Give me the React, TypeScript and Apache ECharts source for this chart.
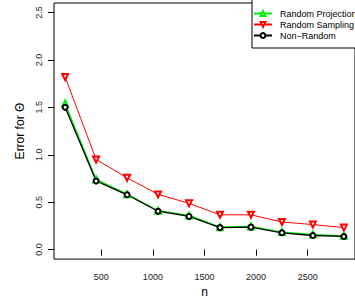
import React, { useEffect, useRef } from "react";
import * as echarts from "echarts";

const nValues = [150, 450, 750, 1050, 1350, 1650, 1950, 2250, 2550, 2850];
const randomProjection = [1.54, 0.74, 0.585, 0.41, 0.36, 0.237, 0.245, 0.185, 0.16, 0.145];
const randomSampling = [1.82, 0.95, 0.758, 0.582, 0.488, 0.367, 0.367, 0.291, 0.264, 0.232];
const nonRandom = [1.5, 0.724, 0.578, 0.405, 0.35, 0.232, 0.237, 0.177, 0.149, 0.139];
const xTicks = [500, 1000, 1500, 2000, 2500];
const yTicks = [0, 0.5, 1, 1.5, 2, 2.5];
const seriesNames = ["Random Projection", "Random Sampling", "Non\u2212Random"];

const FONT = "Liberation Sans, Arial, Helvetica, sans-serif";

export default function App() {
  const ref = useRef<HTMLDivElement>(null);
  useEffect(() => {
    if (!ref.current) return;
    const chart = echarts.init(ref.current, undefined, { renderer: "svg" });
    const pairs = (ys: number[]) => nValues.map((x, i) => [x, ys[i]]);
    chart.setOption({
      animation: false,
      backgroundColor: "#fff",
      grid: {
        left: 54,
        top: 3,
        width: 308,
        height: 259,
        show: true,
        borderColor: "#000",
        borderWidth: 1,
        backgroundColor: "transparent",
      },
      xAxis: {
        type: "value",
        min: 42,
        max: 2958,
        name: "n",
        nameLocation: "middle",
        nameGap: 26,
        nameTextStyle: { fontFamily: FONT, fontSize: 12, color: "#000" },
        axisLine: { show: false },
        splitLine: { show: false },
        axisTick: { show: true, inside: false, length: 6, lineStyle: { color: "#000" }, customValues: xTicks },
        axisLabel: {
          fontFamily: FONT,
          fontSize: 9,
          color: "#222",
          margin: 13,
          customValues: xTicks,
          formatter: (v: number) => String(v),
        },
      },
      yAxis: {
        type: "value",
        min: -0.1,
        max: 2.6,
        name: "Error for \u0398",
        nameLocation: "middle",
        nameGap: 27,
        nameTextStyle: { fontFamily: FONT, fontSize: 12, color: "#000" },
        axisLine: { show: false },
        splitLine: { show: false },
        axisTick: { show: true, inside: false, length: 6, lineStyle: { color: "#000" }, customValues: yTicks },
        axisLabel: {
          fontFamily: FONT,
          fontSize: 9,
          color: "#222",
          rotate: 90,
          margin: 11,
          customValues: yTicks,
          formatter: (v: number) => v.toFixed(1),
        },
      },
      legend: {
        data: seriesNames,
        orient: "vertical",
        left: 252,
        top: -1,
        padding: [9, 4, 7, 1],
        itemGap: 0,
        itemWidth: 18,
        itemHeight: 6,
        borderColor: "#000",
        borderWidth: 1,
        backgroundColor: "#fff",
        textStyle: { fontFamily: FONT, fontSize: 9, color: "#000", lineHeight: 11, padding: [0, 0, 0, 3] },
      },
      series: [
        {
          name: seriesNames[0],
          type: "line",
          data: pairs(randomProjection),
          symbol: "emptyTriangle",
          symbolSize: 6,
          lineStyle: { color: "#00ee00", width: 1.3 },
          itemStyle: { color: "#00ee00", borderColor: "#00ee00", borderWidth: 1 },
        },
        {
          name: seriesNames[1],
          type: "line",
          data: pairs(randomSampling),
          symbol: "emptyTriangle",
          symbolRotate: 180,
          symbolSize: 6,
          lineStyle: { color: "#ff0000", width: 1 },
          itemStyle: { color: "#ff0000", borderColor: "#ff0000", borderWidth: 1 },
        },
        {
          name: seriesNames[2],
          type: "line",
          data: pairs(nonRandom),
          symbol: "emptyCircle",
          symbolSize: 5,
          lineStyle: { color: "#000", width: 1.3 },
          itemStyle: { color: "#000", borderColor: "#000", borderWidth: 1 },
        },
      ],
    });
    return () => chart.dispose();
  }, []);
  return (
    <div
      ref={ref}
      style={{ position: "fixed", left: 0, top: 0, width: 355, height: 303, background: "#fff" }}
    />
  );
}
